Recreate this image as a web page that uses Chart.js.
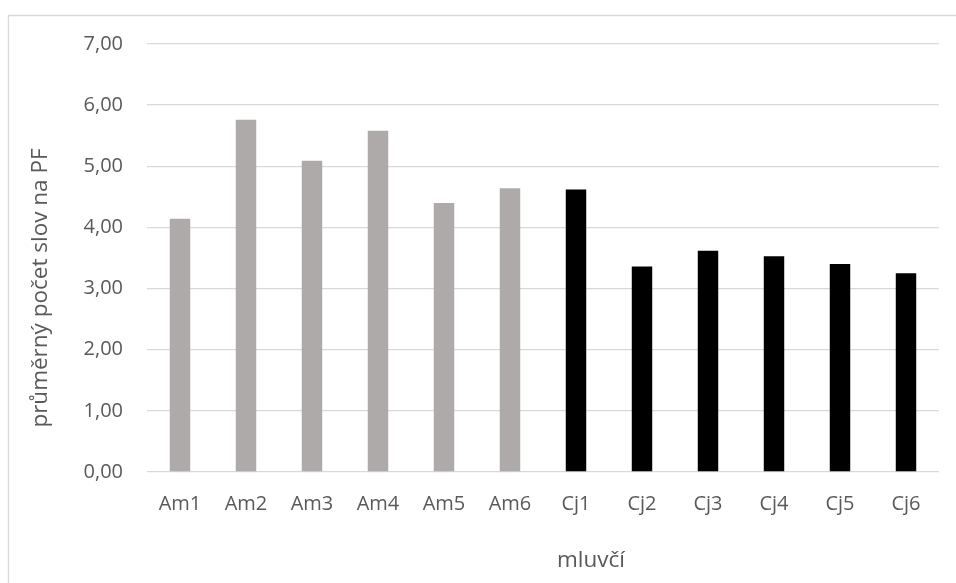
<!DOCTYPE html>
<html lang="cs">
<head>
<meta charset="utf-8">
<title>Průměrný počet slov na PF</title>
<script src="https://cdn.jsdelivr.net/npm/chart.js@4.4.1/dist/chart.umd.min.js"></script>
<style>
  html, body { margin: 0; padding: 0; background: #ffffff; }
  #wrap { position: relative; width: 956px; height: 583px; }
</style>
</head>
<body>
<div id="wrap"><canvas id="chart" width="956" height="583"></canvas></div>
<script>
// Speakers and their mean number of words per prosodic phrase
const categories = ['Am1', 'Am2', 'Am3', 'Am4', 'Am5', 'Am6', 'Cj1', 'Cj2', 'Cj3', 'Cj4', 'Cj5', 'Cj6'];
const values = [4.14, 5.76, 5.09, 5.58, 4.40, 4.64, 4.62, 3.36, 3.62, 3.53, 3.40, 3.25];
const yTicks = [0, 1, 2, 3, 4, 5, 6, 7];
const xTitle = 'mluvčí';
const yTitle = 'průměrný počet slov na PF';

const FONT = '"Open Sans", "DejaVu Sans", sans-serif';
const TEXT = '#595959';
const GRID = '#d9d9d9';
const groupColour = { Am: '#aeaaaa', Cj: '#000000' };
const barColours = categories.map(c => groupColour[c.slice(0, 2)]);

const fmt = v => Number(v).toFixed(2).replace('.', ',');

// Frame around the chart plus the axis titles
const decorations = {
  id: 'decorations',
  beforeDraw(chart) {
    const ctx = chart.ctx;
    ctx.save();
    ctx.strokeStyle = GRID;
    ctx.lineWidth = 1.3;
    ctx.beginPath();
    ctx.moveTo(8.5, 600);
    ctx.lineTo(8.5, 15.5);
    ctx.lineTo(970, 15.5);
    ctx.stroke();
    ctx.restore();
  },
  afterDraw(chart) {
    const { ctx, chartArea } = chart;
    ctx.save();
    ctx.fillStyle = TEXT;
    ctx.font = '22.5px ' + FONT;
    ctx.textAlign = 'center';
    ctx.textBaseline = 'middle';
    ctx.fillText(xTitle, chartArea.left + 444, 561);
    ctx.translate(41, chartArea.top + 244);
    ctx.rotate(-Math.PI / 2);
    ctx.fillText(yTitle, 0, 0);
    ctx.restore();
  }
};

new Chart(document.getElementById('chart'), {
  type: 'bar',
  data: {
    labels: categories,
    datasets: [{
      data: values,
      backgroundColor: barColours,
      borderWidth: 0,
      barPercentage: 0.31,
      categoryPercentage: 1.0
    }]
  },
  options: {
    responsive: false,
    animation: false,
    devicePixelRatio: 1,
    layout: { padding: { left: 0, top: 44, right: 17, bottom: 0 } },
    plugins: {
      legend: { display: false },
      tooltip: { enabled: false },
      title: { display: false }
    },
    scales: {
      x: {
        grid: { display: false, drawTicks: false },
        border: { display: false },
        ticks: {
          color: TEXT,
          font: { family: FONT, size: 20 },
          padding: 20,
          maxRotation: 0,
          autoSkip: false
        },
        afterFit(scale) { scale.height = 111; }
      },
      y: {
        min: 0,
        max: 7,
        afterBuildTicks(scale) { scale.ticks = yTicks.map(v => ({ value: v })); },
        grid: { color: GRID, lineWidth: 1.3, drawTicks: false },
        border: { display: false },
        ticks: {
          color: TEXT,
          font: { family: FONT, size: 20 },
          padding: 24,
          callback: v => fmt(v)
        },
        afterFit(scale) { scale.width = 147; }
      }
    }
  },
  plugins: [decorations]
});
</script>
</body>
</html>
